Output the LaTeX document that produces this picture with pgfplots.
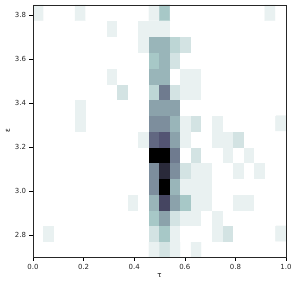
\documentclass[border=0pt]{standalone}
\usepackage{fontspec}
\setmainfont{DejaVu Sans}
\usepackage{pgfplots}
\pgfplotsset{compat=1.18}
\usepackage{pgfplotstable}

% counts per bin, bottom row first, 24 bins in tau per row
\pgfplotstableread[row sep=\\]{
c\\
0\\0\\0\\0\\0\\0\\0\\0\\0\\0\\0\\1\\2\\1\\0\\1\\0\\0\\0\\0\\0\\0\\0\\0\\
0\\1\\0\\0\\0\\0\\0\\0\\0\\0\\0\\2\\4\\1\\0\\0\\0\\1\\2\\0\\0\\0\\0\\1\\
0\\0\\0\\0\\0\\0\\0\\0\\0\\0\\0\\4\\6\\2\\1\\1\\0\\1\\0\\0\\0\\0\\0\\0\\
0\\0\\0\\0\\0\\0\\0\\0\\0\\1\\0\\5\\11\\6\\4\\1\\1\\0\\0\\1\\1\\0\\0\\0\\
0\\0\\0\\0\\0\\0\\0\\0\\0\\0\\0\\7\\16\\5\\1\\1\\1\\0\\0\\0\\0\\0\\0\\0\\
0\\0\\0\\0\\0\\0\\0\\0\\0\\0\\0\\7\\13\\7\\2\\1\\1\\0\\0\\1\\0\\1\\0\\0\\
0\\0\\0\\0\\0\\0\\0\\0\\0\\0\\0\\16\\16\\8\\0\\2\\0\\0\\1\\0\\1\\0\\0\\0\\
0\\0\\0\\0\\0\\0\\0\\0\\0\\0\\1\\9\\10\\6\\1\\0\\0\\1\\1\\2\\0\\0\\0\\0\\
0\\0\\0\\0\\1\\0\\0\\0\\0\\0\\0\\7\\7\\5\\1\\2\\0\\1\\0\\0\\0\\0\\0\\1\\
0\\0\\0\\0\\1\\0\\0\\0\\0\\0\\0\\6\\6\\6\\0\\0\\0\\0\\0\\0\\0\\0\\0\\0\\
0\\0\\0\\0\\0\\0\\0\\0\\2\\0\\0\\3\\8\\2\\1\\1\\0\\0\\0\\0\\0\\0\\0\\0\\
0\\0\\0\\0\\0\\0\\0\\1\\0\\0\\0\\5\\5\\0\\1\\1\\0\\0\\0\\0\\0\\0\\0\\0\\
0\\0\\0\\0\\0\\0\\0\\0\\0\\0\\0\\4\\5\\2\\0\\0\\0\\0\\0\\0\\0\\0\\0\\0\\
0\\0\\0\\0\\0\\0\\0\\0\\0\\0\\1\\5\\5\\3\\2\\0\\0\\0\\0\\0\\0\\0\\0\\0\\
0\\0\\0\\0\\0\\0\\0\\1\\0\\0\\1\\1\\1\\0\\0\\0\\0\\0\\0\\0\\0\\0\\0\\0\\
1\\0\\0\\0\\1\\0\\0\\0\\0\\0\\0\\1\\4\\0\\0\\0\\0\\0\\0\\0\\0\\0\\1\\0\\
}\histdata

\begin{document}
\begin{tikzpicture}
\path[use as bounding box] (-33bp,-28bp) rectangle (264bp,257bp);
\begin{axis}[
  at={(0,0)}, anchor=south west,
  scale only axis, width=253bp, height=252bp,
  xmin=0, xmax=1, ymin=2.70, ymax=3.847,
  xtick={0,0.2,0.4,0.6,0.8,1.0},
  ytick={2.8,3.0,3.2,3.4,3.6,3.8},
  tick pos=left, tick align=outside,
  major tick length=3.5bp,
  every tick/.style={black, line width=0.6bp},
  axis line style={black!85, line width=0.8bp},
  tick label style={font=\fontsize{7}{8}\selectfont, text=black!85},
  /pgf/number format/assume math mode=true,
  /pgf/number format/.cd, fixed, fixed zerofill, precision=1, /pgfplots/.cd,
  xlabel={τ}, ylabel={ε},
  label style={font=\fontsize{7}{8}\selectfont},
  xlabel style={at={(axis description cs:0.5,-0.075)}, anchor=center},
  ylabel style={at={(axis description cs:-0.099,0.5)}, anchor=center},
  colormap={bonerev}{rgb255(0cm)=(255,255,255) rgb255(0.254cm)=(166,199,198) rgb255(0.635cm)=(81,81,113) rgb255(1cm)=(0,0,0)},
  point meta min=0, point meta max=16,
  axis on top,
]
\addplot[matrix plot*, mesh/cols=24, mesh/rows=16, point meta=explicit]
  table[x index=0, y index=0,
        x expr={(mod(\coordindex,24)+0.5)/24},
        y expr={2.70+(floor(\coordindex/24)+0.5)*0.07169},
        meta=c] {\histdata};
\end{axis}
\end{tikzpicture}
\end{document}
